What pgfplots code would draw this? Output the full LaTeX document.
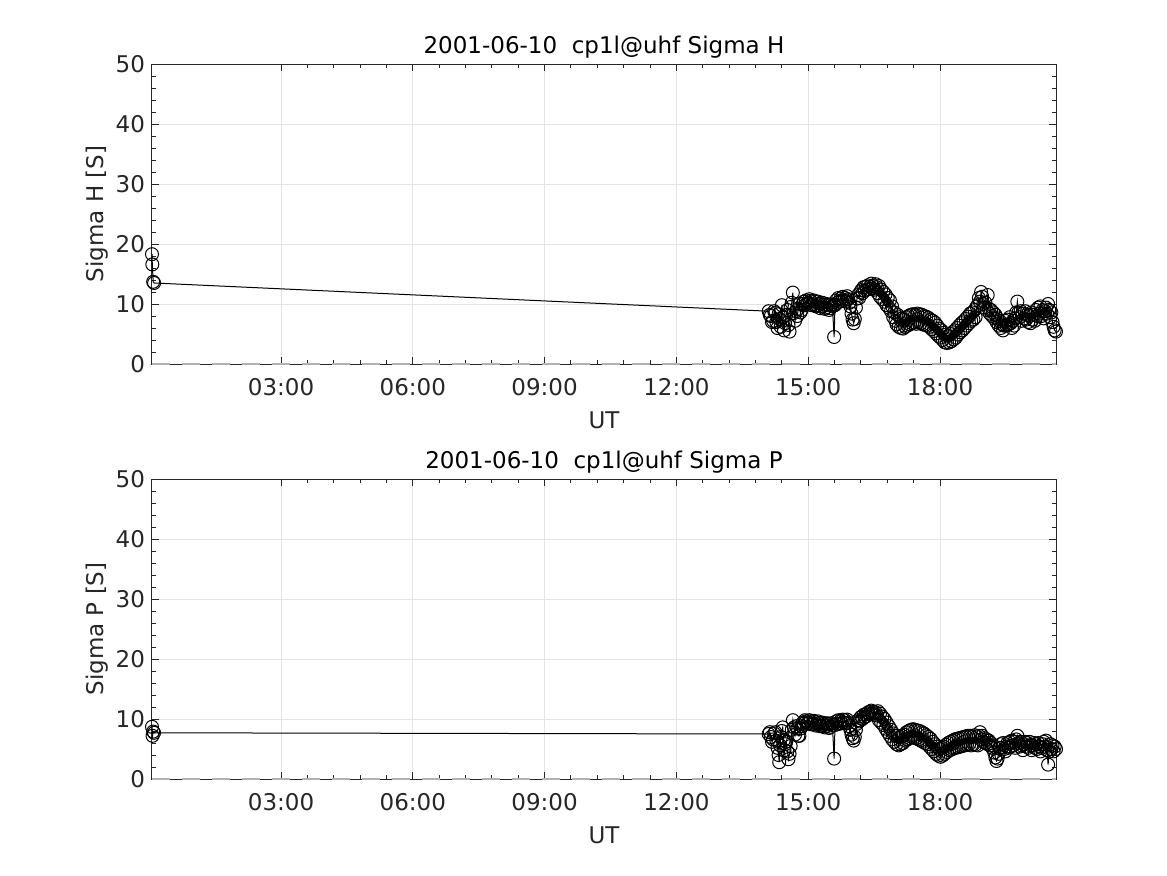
\documentclass[border=0pt]{standalone}
\usepackage{pgfplots}
\pgfplotsset{compat=1.18}
\usepackage{fontspec}
\setmainfont{DejaVu Sans}
\definecolor{axgray}{HTML}{262626}
\definecolor{gridgray}{HTML}{E3E3E3}
\pgfplotsset{mystyle/.style={
  width=452pt, height=150pt, scale only axis,
  xmin=0.063, xmax=20.64, ymin=0, ymax=50,
  xtick={3,6,9,12,15,18},
  xticklabels={03:00,06:00,09:00,12:00,15:00,18:00},
  ytick={0,10,20,30,40,50},
  minor x tick num=4, minor y tick num=4,
  tick align=inside, tick pos=both,
  major tick length=3.5pt, minor tick length=2pt,
  grid=major, major grid style={gridgray, line width=0.5pt},
  axis line style={axgray, line width=0.5pt},
  every tick/.style={axgray, line width=0.5pt},
  tick label style={font=\fontsize{11.5}{13}\selectfont, text=axgray},
  xticklabel style={yshift=-3.5pt},
  label style={font=\fontsize{11.5}{13}\selectfont, text=axgray},
  title style={font=\fontsize{11.5}{13}\selectfont, text=black, at={(0.5,1)}, anchor=center, yshift=2.5pt},
  xlabel style={at={(0.5,-0.187)}, anchor=center},
  ylabel style={at={(-0.0608,0.5)}, anchor=center},
  /pgf/number format/assume math mode=true,
  clip=false,
  xlabel={UT},
}}
\pgfplotsset{dataline/.style={black, line width=0.5pt, mark=o, mark size=3.25pt, mark options={solid, line width=0.5pt}}}
\pgfplotsset{zeroline/.style={gray!60, line width=0.9pt, dash pattern=on 9pt off 6pt, forget plot}}

\pgfplotstableread{
x y
0.063 18.3
0.070 16.6
0.090 13.7
0.110 13.5
14.10 8.8
14.125 8.2
14.15 8.0
14.175 7.0
14.20 7.2
14.225 8.8
14.25 8.5
14.275 7.0
14.30 6.0
14.325 8.3
14.35 7.5
14.375 6.2
14.40 9.8
14.425 7.8
14.45 5.6
14.475 6.8
14.50 8.2
14.525 9.0
14.55 6.5
14.575 5.4
14.60 9.5
14.625 10.2
14.65 11.9
14.675 8.5
14.70 7.2
14.725 8.8
14.75 8.0
14.775 9.2
14.80 10.0
14.825 8.6
14.85 9.0
14.875 10.0
14.90 10.4
14.925 9.8
14.95 10.6
14.975 10.0
15.00 10.2
15.025 10.8
15.05 10.5
15.075 9.8
15.10 10.0
15.125 10.6
15.15 10.4
15.175 9.6
15.20 9.8
15.225 10.4
15.25 10.1
15.275 9.3
15.30 9.6
15.325 10.2
15.35 9.9
15.375 9.2
15.40 9.4
15.425 10.0
15.45 9.8
15.475 9.0
15.50 9.3
15.525 9.9
15.55 9.6
15.59 4.5
15.61 9.8
15.635 10.6
15.66 10.2
15.685 11.0
15.71 10.4
15.735 10.9
15.76 10.5
15.785 11.2
15.81 10.6
15.835 11.0
15.86 10.5
15.885 11.3
15.91 10.8
15.935 10.2
15.96 9.6
15.985 8.4
16.01 7.4
16.035 6.8
16.06 7.5
16.085 9.4
16.11 10.9
16.135 11.5
16.16 11.0
16.185 12.0
16.21 12.3
16.235 11.8
16.26 12.8
16.285 12.2
16.31 12.9
16.335 12.4
16.36 13.1
16.385 12.5
16.41 12.9
16.435 13.4
16.46 12.6
16.485 13.0
16.51 12.4
16.535 13.3
16.56 12.8
16.585 11.8
16.61 13.0
16.635 11.2
16.66 12.4
16.685 10.8
16.71 12.0
16.735 10.4
16.76 11.6
16.785 9.8
16.81 11.0
16.835 9.4
16.86 10.6
16.885 8.8
16.91 9.6
16.935 7.8
16.96 8.6
16.985 7.2
17.01 6.6
17.035 8.2
17.06 6.2
17.085 7.8
17.11 6.0
17.135 7.6
17.16 5.9
17.185 7.4
17.21 6.2
17.235 7.8
17.26 6.4
17.285 8.0
17.31 6.6
17.335 8.2
17.36 6.8
17.385 8.3
17.41 6.9
17.435 8.2
17.46 6.7
17.485 8.4
17.51 7.0
17.535 8.3
17.56 6.8
17.585 8.2
17.61 6.6
17.635 8.0
17.66 6.5
17.685 7.9
17.71 6.4
17.735 7.7
17.76 6.2
17.785 7.4
17.81 5.8
17.835 7.2
17.86 5.5
17.885 6.9
17.91 5.1
17.935 6.4
17.96 4.7
17.985 5.9
18.01 4.4
18.035 5.6
18.06 4.0
18.085 5.2
18.11 3.6
18.135 4.9
18.16 3.5
18.185 4.7
18.21 3.6
18.235 5.0
18.26 3.8
18.285 5.3
18.31 4.1
18.335 5.6
18.36 4.4
18.385 6.0
18.41 4.9
18.435 6.4
18.46 5.3
18.485 6.8
18.51 5.6
18.535 7.1
18.56 6.0
18.585 7.5
18.61 6.4
18.635 7.9
18.66 6.8
18.685 8.4
18.71 7.2
18.735 8.6
18.76 7.4
18.785 9.0
18.81 7.8
18.835 9.6
18.86 9.8
18.885 11.0
18.91 10.4
18.935 12.0
18.96 11.2
18.985 10.0
19.01 9.4
19.035 10.2
19.06 9.0
19.085 11.5
19.11 9.2
19.135 8.4
19.16 9.0
19.185 8.0
19.21 8.6
19.235 7.6
19.26 8.2
19.285 7.0
19.31 7.6
19.335 6.4
19.36 7.2
19.385 6.0
19.41 6.6
19.435 5.6
19.46 6.4
19.485 7.2
19.51 6.4
19.535 7.4
19.56 6.6
19.585 7.8
19.61 6.8
19.635 6.0
19.66 7.2
19.685 6.4
19.71 7.6
19.735 8.6
19.76 10.4
19.785 8.6
19.81 7.8
19.835 8.8
19.86 7.2
19.885 8.4
19.91 7.6
19.935 8.8
19.96 7.4
19.985 8.2
20.01 7.0
20.035 8.0
20.06 6.8
20.085 8.6
20.11 7.4
20.135 8.2
20.16 7.2
20.185 9.0
20.21 8.0
20.235 9.4
20.26 8.4
20.285 9.6
20.31 8.0
20.335 9.0
20.36 7.6
20.385 8.8
20.41 9.4
20.435 8.4
20.46 10.0
20.485 9.0
20.51 7.8
20.535 8.6
20.56 7.0
20.585 6.2
20.61 5.6
20.64 5.4
}\sigmaH

\pgfplotstableread{
x y
0.063 8.7
0.075 7.2
0.090 7.9
0.110 7.7
14.10 7.5
14.125 7.8
14.15 7.0
14.175 6.2
14.20 6.6
14.225 7.6
14.25 7.8
14.275 6.4
14.30 5.2
14.325 4.0
14.34 2.8
14.36 5.6
14.38 7.0
14.40 8.0
14.42 8.6
14.44 6.4
14.46 4.8
14.48 5.8
14.50 6.2
14.525 4.6
14.55 3.3
14.575 4.2
14.60 5.5
14.625 8.2
14.65 9.8
14.675 8.6
14.70 7.4
14.725 8.8
14.75 8.4
14.775 7.2
14.80 7.2
14.825 8.4
14.85 8.8
14.875 9.4
14.90 9.2
14.925 9.8
14.95 9.6
14.975 9.2
15.00 9.3
15.025 9.8
15.05 9.6
15.075 9.1
15.10 9.2
15.125 9.7
15.15 9.5
15.175 8.9
15.20 9.1
15.225 9.6
15.25 9.3
15.275 8.8
15.30 8.9
15.325 9.4
15.35 9.2
15.375 8.6
15.40 8.8
15.425 9.3
15.45 9.1
15.475 8.5
15.50 8.7
15.525 9.3
15.55 9.0
15.59 3.4
15.61 9.0
15.635 9.6
15.66 9.2
15.685 9.8
15.71 9.2
15.735 9.7
15.76 9.3
15.785 9.9
15.81 9.4
15.835 9.8
15.86 9.3
15.885 9.9
15.91 9.4
15.935 8.8
15.96 8.2
15.985 7.4
16.01 6.8
16.035 6.4
16.06 7.0
16.085 8.2
16.11 9.2
16.135 9.8
16.16 9.6
16.185 10.2
16.21 10.4
16.235 10.0
16.26 10.7
16.285 10.3
16.31 10.8
16.335 10.5
16.36 11.1
16.385 10.8
16.41 11.2
16.435 11.4
16.46 10.9
16.485 11.2
16.51 10.7
16.535 11.1
16.56 10.6
16.585 11.3
16.61 9.8
16.635 10.9
16.66 9.4
16.685 10.4
16.71 9.0
16.735 10.0
16.76 8.4
16.785 9.4
16.81 7.8
16.835 8.8
16.86 7.2
16.885 8.2
16.91 6.6
16.935 7.6
16.96 6.2
16.985 7.2
17.01 5.8
17.035 7.2
17.06 5.6
17.085 7.0
17.11 5.8
17.135 7.2
17.16 6.0
17.185 7.4
17.21 6.4
17.235 7.8
17.26 6.6
17.285 8.0
17.31 6.8
17.335 8.2
17.36 7.0
17.385 8.3
17.41 6.9
17.435 8.2
17.46 6.8
17.485 8.1
17.51 6.6
17.535 8.0
17.56 6.4
17.585 7.8
17.61 6.2
17.635 7.6
17.66 6.0
17.685 7.3
17.71 5.8
17.735 7.0
17.76 5.4
17.785 6.7
17.81 5.0
17.835 6.2
17.86 4.6
17.885 5.8
17.91 4.2
17.935 5.4
17.96 3.9
17.985 5.0
18.01 3.7
18.035 5.2
18.06 3.9
18.085 5.4
18.11 4.2
18.135 5.7
18.16 4.5
18.185 6.0
18.21 4.8
18.235 6.2
18.26 4.9
18.285 6.4
18.31 5.1
18.335 6.6
18.36 5.2
18.385 6.7
18.41 5.3
18.435 6.8
18.46 5.4
18.485 6.9
18.51 5.5
18.535 7.0
18.56 5.6
18.585 7.1
18.61 5.7
18.635 7.2
18.66 5.8
18.685 7.2
18.71 5.6
18.735 7.0
18.76 5.8
18.785 7.3
18.81 5.7
18.835 7.1
18.86 5.6
18.885 7.2
18.91 7.8
18.935 6.6
18.96 7.2
18.985 6.2
19.01 6.8
19.035 6.0
19.06 6.6
19.085 5.8
19.11 6.4
19.135 5.6
19.16 6.0
19.185 5.2
19.21 5.6
19.235 4.4
19.26 3.6
19.285 3.0
19.31 3.4
19.335 4.2
19.36 5.2
19.385 5.8
19.41 5.2
19.435 6.0
19.46 5.0
19.485 4.6
19.51 5.4
19.535 6.0
19.56 5.2
19.585 6.2
19.61 5.4
19.635 6.4
19.66 5.6
19.685 6.2
19.71 5.2
19.735 6.6
19.76 7.2
19.785 6.0
19.81 5.4
19.835 6.2
19.86 5.6
19.885 4.8
19.91 5.8
19.935 6.2
19.96 5.4
19.985 6.0
20.01 5.2
20.035 6.2
20.06 5.6
20.085 4.8
20.11 5.6
20.135 6.0
20.16 5.2
20.185 5.8
20.21 5.0
20.235 6.0
20.26 5.4
20.285 4.6
20.31 5.2
20.335 5.8
20.36 6.2
20.385 5.4
20.41 6.4
20.435 4.8
20.46 2.4
20.485 4.6
20.51 5.8
20.535 5.0
20.56 5.6
20.585 4.6
20.61 5.4
20.64 5.0
}\sigmaP

\begin{document}
\begin{tikzpicture}
\path[use as bounding box] (0,0) rectangle (583.5pt,437.5pt);
\begin{axis}[mystyle, at={(76pt,255.5pt)}, anchor=south west,
  title={2001-06-10\ \ cp1l@uhf Sigma H}, ylabel={Sigma H [S]}]
\addplot[zeroline] coordinates {(0.063,0) (20.64,0)};
\addplot[dataline] table[x=x,y=y] {\sigmaH};
\end{axis}
\begin{axis}[mystyle, at={(76pt,48pt)}, anchor=south west,
  title={2001-06-10\ \ cp1l@uhf Sigma P}, ylabel={Sigma P [S]}]
\addplot[zeroline] coordinates {(0.063,0) (20.64,0)};
\addplot[dataline] table[x=x,y=y] {\sigmaP};
\end{axis}
\end{tikzpicture}
\end{document}
